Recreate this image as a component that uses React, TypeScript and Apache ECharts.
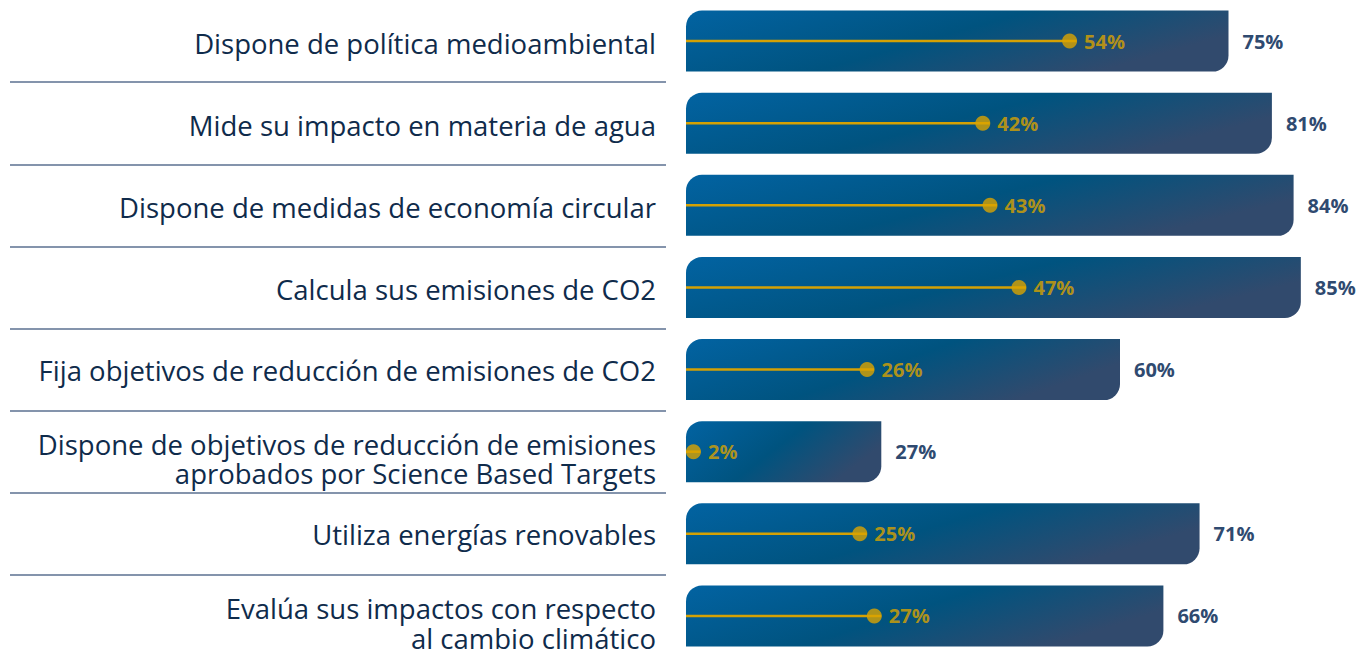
import React, { useEffect, useRef } from "react";
import * as echarts from "echarts";

const categories = [
  "Dispone de política medioambiental",
  "Mide su impacto en materia de agua",
  "Dispone de medidas de economía circular",
  "Calcula sus emisiones de CO2",
  "Fija objetivos de reducción de emisiones de CO2",
  "Dispone de objetivos de reducción de emisiones\naprobados por Science Based Targets",
  "Utiliza energías renovables",
  "Evalúa sus impactos con respecto\nal cambio climático",
];
const totalValues = [75, 81, 84, 85, 60, 27, 71, 66];
const innerValues = [54, 42, 43, 47, 26, 2, 25, 27];

const FONT = "Open Sans";
const LABEL_COLOR = "#0f2b4b";

export default function App() {
  const ref = useRef<HTMLDivElement>(null);
  useEffect(() => {
    if (!ref.current) return;
    const chart = echarts.init(ref.current, undefined, { renderer: "svg" });
    const gradient = new echarts.graphic.LinearGradient(0, 0, 1, 0.4, [
      { offset: 0, color: "#0263a2" },
      { offset: 0.55, color: "#00537f" },
      { offset: 1, color: "#314a6d" },
    ]);
    const labelAxis = (gridIndex: number, multi: boolean) => ({
      gridIndex,
      type: "category",
      data: categories,
      inverse: true,
      position: "left",
      axisLine: { show: false },
      axisTick: { show: false },
      axisLabel: {
        margin: 30,
        fontSize: 27.5,
        fontFamily: FONT,
        color: LABEL_COLOR,
        lineHeight: 29.5,
        align: "right",
        formatter: (v: string) => {
          if (v.includes("\n") !== multi) return "";
          if (!multi) return v;
          return "{g| }\n" + v.split("\n").map((l) => "{t|" + l + "}").join("\n");
        },
        rich: {
          t: {
            fontSize: 27.5,
            fontFamily: FONT,
            color: LABEL_COLOR,
            lineHeight: 29.5,
            align: "right",
          },
          g: { fontSize: 1, lineHeight: 15, align: "right" },
        },
      },
    });
    chart.setOption({
      animation: false,
      backgroundColor: "#ffffff",
      grid: [
        { left: 686, right: 24, top: 0, bottom: 0 },
        { left: 10, right: 695, top: 0, bottom: 0 },
        { left: 686, right: 24, top: 3, bottom: 0 },
        { left: 686, right: 24, top: 0, bottom: 0 },
      ],
      xAxis: [
        { gridIndex: 0, type: "value", min: 0, max: 90, show: false },
        { gridIndex: 1, type: "value", min: 0, max: 1, show: false },
        { gridIndex: 2, type: "value", min: 0, max: 1, show: false },
        { gridIndex: 3, type: "value", min: 0, max: 1, show: false },
      ],
      yAxis: [
        {
          gridIndex: 0,
          type: "category",
          data: categories,
          inverse: true,
          axisLine: { show: false },
          axisTick: { show: false },
          axisLabel: { show: false },
        },
        {
          gridIndex: 1,
          type: "category",
          data: categories,
          inverse: true,
          axisLine: { show: false },
          axisTick: { show: false },
          axisLabel: { show: false },
          splitLine: {
            show: true,
            showMinLine: false,
            showMaxLine: false,
            lineStyle: { color: "#5b7190", width: 1.5 },
          },
        },
        {
          gridIndex: 0,
          type: "category",
          data: categories,
          inverse: true,
          show: false,
        },
        labelAxis(2, false),
        labelAxis(3, true),
      ],
      series: [
        {
          type: "bar",
          xAxisIndex: 0,
          yAxisIndex: 0,
          data: totalValues,
          barWidth: 61,
          itemStyle: { color: gradient, borderRadius: [16, 0, 16, 0] },
          label: {
            show: true,
            position: "right",
            distance: 14,
            formatter: "{c}%",
            fontFamily: FONT,
            fontWeight: "bold",
            fontSize: 20,
            color: "#2f4a70",
          },
          z: 1,
        },
        {
          type: "bar",
          xAxisIndex: 0,
          yAxisIndex: 2,
          data: innerValues,
          barWidth: 2.5,
          itemStyle: { color: "#d4a104" },
          z: 2,
        },
        {
          type: "scatter",
          xAxisIndex: 0,
          yAxisIndex: 2,
          data: innerValues,
          symbol: "circle",
          symbolSize: 15,
          symbolOffset: [-7, 0],
          itemStyle: { color: "#dba400" },
          label: {
            show: true,
            position: "right",
            distance: 7,
            formatter: "{c}%",
            fontFamily: FONT,
            fontWeight: "bold",
            fontSize: 20,
            color: "#dba400",
          },
          z: 3,
        },
      ],
    });
    return () => chart.dispose();
  }, []);
  return (
    <div
      ref={ref}
      style={{ position: "fixed", left: 0, top: 0, width: 1361, height: 657 }}
    />
  );
}
